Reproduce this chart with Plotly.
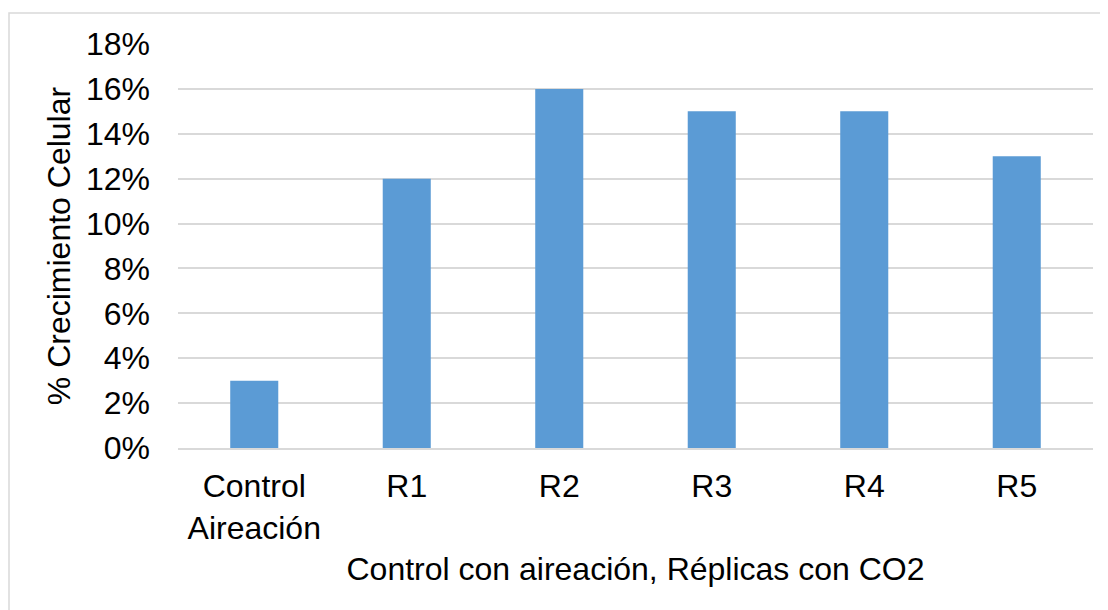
import plotly.graph_objects as go

categories = ["Control<br>Aireación", "R1", "R2", "R3", "R4", "R5"]
growth = [0.03, 0.12, 0.16, 0.15, 0.15, 0.13]
y_ticks = [0, 0.02, 0.04, 0.06, 0.08, 0.10, 0.12, 0.14, 0.16, 0.18]
x_title = "Control con aireación, Réplicas con CO2"
y_title = "% Crecimiento Celular"

FONT = "Liberation Sans, Arial, sans-serif"
W, H = 1100, 602
ML, MR, MT, MB = 170, 15, 36, 162
FS = 32

fig = go.Figure(go.Bar(x=categories, y=growth, marker=dict(color="#5b9bd5", line=dict(width=0))))

pw = W - ML - MR
ph = H - MT - MB
fig.add_shape(type="rect", xref="paper", yref="paper",
              x0=(1 - ML) / pw, x1=(W + 10 - ML) / pw,
              y0=(MT + ph - (H + 10)) / ph, y1=(MT + ph - 5) / ph,
              line=dict(color="#d9d9d9", width=1.5), fillcolor="rgba(0,0,0,0)", layer="below")

fig.update_layout(
    width=W, height=H,
    margin=dict(l=ML, r=MR, t=MT, b=MB, autoexpand=False),
    paper_bgcolor="white", plot_bgcolor="white",
    font=dict(family=FONT, size=FS, color="#000000"),
    bargap=0.685,
    showlegend=False,
    xaxis=dict(
        automargin=False,
        showgrid=False, showline=True, linecolor="#d9d9d9", linewidth=1.5,
        ticks="", ticklabelstandoff=9,
        title=dict(text=x_title, standoff=13, font=dict(size=FS)),
        tickfont=dict(size=FS),
    ),
    yaxis=dict(
        automargin=False,
        range=[0, 0.18], tickvals=y_ticks, tickformat=".0%",
        showgrid=True, gridcolor="#d9d9d9", gridwidth=1.5,
        zeroline=False, showline=False, ticks="",
        ticklabelstandoff=27,
        title=dict(text=y_title, standoff=5, font=dict(size=FS)),
        tickfont=dict(size=FS),
    ),
)

fig.write_html("out.html")
